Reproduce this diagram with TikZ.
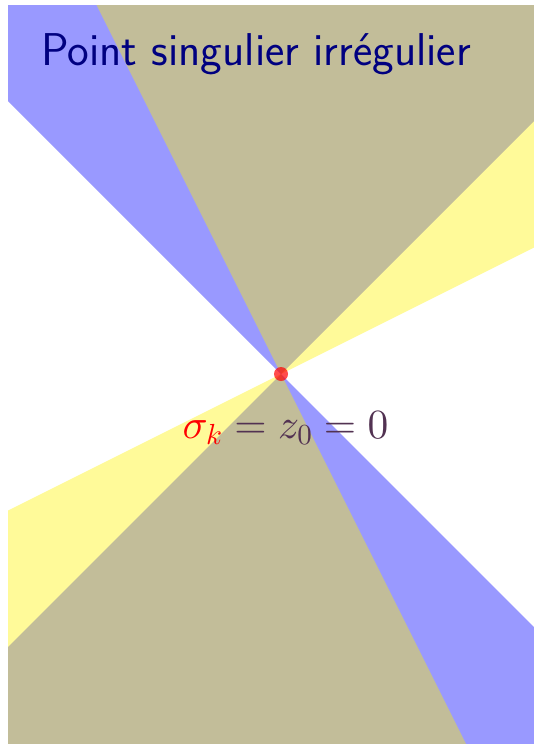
\documentclass[tikz,border=0pt]{standalone}
\DeclareFontShape{OML}{cmm}{m}{it}{<-6>cmmi5 <6-9>cmmi7 <9->cmmi10}{}
\DeclareFontShape{OT1}{cmr}{m}{n}{<-6>cmr5 <6-9>cmr7 <9->cmr10}{}
\DeclareFontShape{OMS}{cmsy}{m}{n}{<-6>cmsy5 <6-9>cmsy7 <9->cmsy10}{}
\DeclareFontShape{OMX}{cmex}{m}{n}{<->cmex10}{}
\definecolor{titleblue}{RGB}{0,0,128}
\definecolor{eqpurple}{RGB}{82,50,82}
\tikzset{
  bluesector/.style={fill=blue, fill opacity=0.4, draw=none},
  yellowsector/.style={fill=yellow, fill opacity=0.4, draw=none},
  titletext/.style={text=titleblue, font=\sffamily\fontsize{46}{54}\selectfont, inner sep=0pt, anchor=base west},
  eqtext/.style={text=eqpurple, font=\fontsize{41.5}{50}\selectfont, inner sep=0pt, anchor=base},
  singdot/.style={circle, fill=red, fill opacity=0.7, draw=none, minimum size=14pt, inner sep=0pt}
}
\begin{document}
\begin{tikzpicture}[x=1pt,y=-1pt]
\useasboundingbox (0,0) rectangle (534,744);
\coordinate (C) at (281,374);
\begin{scope}
  \clip (8,5) rectangle (534,744);
  % blue double cone: 45 to 135 degrees
  \fill[bluesector] (C) -- (1281,-626) -- (-719,-626) -- cycle;
  \fill[bluesector] (C) -- (1281,1374) -- (-719,1374) -- cycle;
  % yellow double cone: 26.57 to 116.57 degrees
  \fill[yellowsector] (C) -- (1281,-126) -- (-219,-626) -- cycle;
  \fill[yellowsector] (C) -- (-719,874) -- (781,1374) -- cycle;
\end{scope}
\node[titletext] (title) at (41,65) {Point singulier irrégulier};
\node[singdot] (dot) at (C) {};
\node[eqtext] (eq) at (285.5,438) {$\textcolor{red}{\sigma_k}=z_0=0$};
\end{tikzpicture}
\end{document}
